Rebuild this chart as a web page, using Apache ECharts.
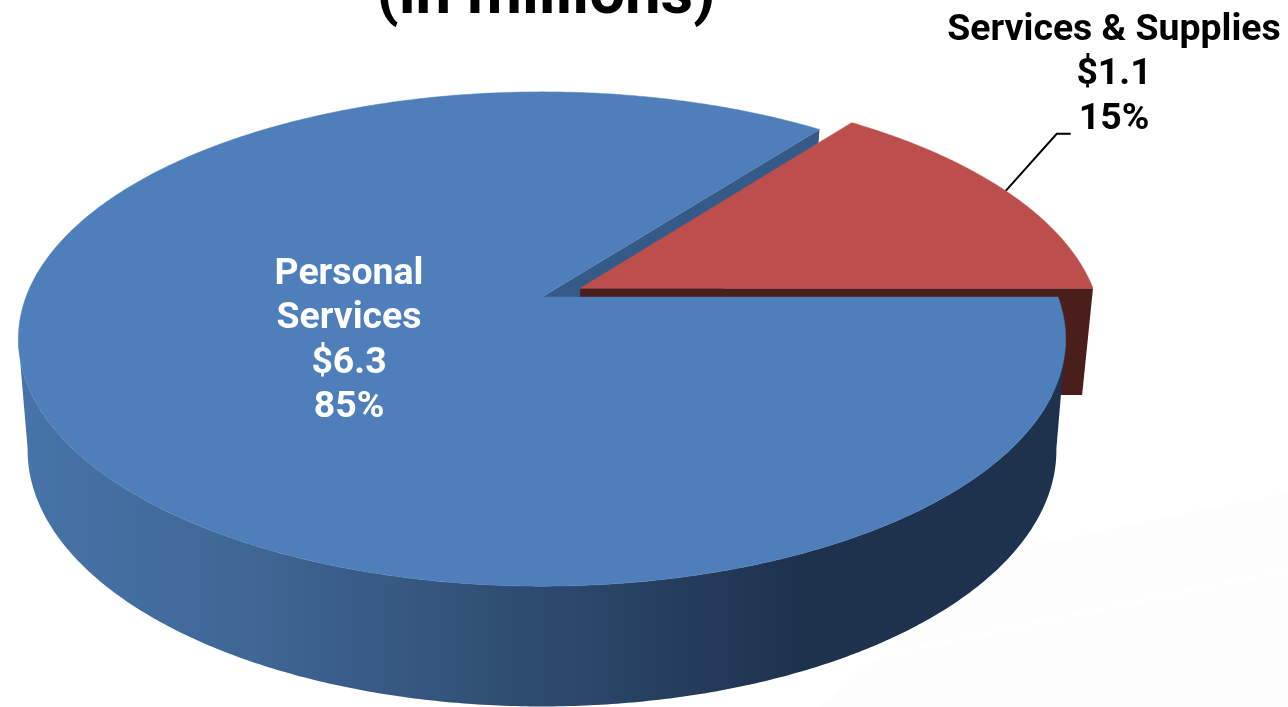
<!DOCTYPE html>
<html>
<head>
<meta charset="utf-8">
<title>Expenditures</title>
<script src="https://cdn.jsdelivr.net/npm/echarts@6/dist/echarts.min.js"></script>
<style>
  html, body { margin: 0; padding: 0; background: #fff; }
  #chart { width: 1288px; height: 707px; }
</style>
</head>
<body>
<div id="chart"></div>
<script>
// values in $ millions
const titleText = "(in millions)";
const categories = ["Personal\nServices", "Services & Supplies"];
const values = [6.34, 1.08];
const explode = [0, 0.083];
const topColors = ["#4e7fbb", "#bc4f4c"];
const cutColors = ["#355a88", "#4a1e1b"];

// layout of the tilted pie: top rim and bottom rim are two perspective circles
const topRim = { cx: 542, cy: 297, a: 516, b: 240, k: 0.17 };
const botRim = { cx: 542, cy: 404, a: 506, b: 248, k: 0.18 };
const labelSpots = [
  { x: 349, y: 341, color: "#fff" },
  { x: 1114, y: 75, color: "#000" },
];

const total = values.reduce((s, v) => s + v, 0);
// slices run counter clockwise from 3 o'clock: last category first
const sweep = values.map((v) => (v / total) * 360);
const ranges = [
  [sweep[1], 360],
  [0, sweep[1]],
];

function project(rim, deg, shift) {
  const t = (deg * Math.PI) / 180;
  const u = Math.cos(t) + shift[0];
  const v = Math.sin(t) + shift[1];
  const w = 1 + rim.k * v;
  return [rim.cx + (rim.a * u) / w, rim.cy - (rim.b * v) / w];
}
function projectCenter(rim, shift) {
  const w = 1 + rim.k * shift[1];
  return [rim.cx + (rim.a * shift[0]) / w, rim.cy - (rim.b * shift[1]) / w];
}
function shiftOf(i) {
  const mid = (((ranges[i][0] + ranges[i][1]) / 2) * Math.PI) / 180;
  return [explode[i] * Math.cos(mid), explode[i] * Math.sin(mid)];
}
function arc(rim, from, to, shift) {
  const pts = [];
  const n = Math.ceil(Math.abs(to - from) * 2);
  for (let j = 0; j <= n; j++) {
    pts.push(project(rim, from + ((to - from) * j) / n, shift));
  }
  return pts;
}

const wallFill = {
  type: "linear",
  x: 30,
  y: 0,
  x2: 1055,
  y2: 0,
  global: true,
  colorStops: [
    { offset: 0, color: "#4673a8" },
    { offset: 0.22, color: "#3f6694" },
    { offset: 0.5, color: "#2d4a6e" },
    { offset: 0.75, color: "#1e324e" },
    { offset: 1, color: "#1e324e" },
  ],
};

function renderWalls(params) {
  const i = params.dataIndex;
  const shift = shiftOf(i);
  const start = ranges[i][0];
  const end = ranges[i][1];
  const kids = [
    {
      type: "polygon",
      z2: i + 1,
      shape: {
        points: [
          projectCenter(topRim, shift),
          project(topRim, start, shift),
          project(botRim, start, shift),
          projectCenter(botRim, shift),
        ],
      },
      style: { fill: cutColors[i] },
    },
  ];
  // only the front part of the outer wall can be seen, between the two
  // angles where the rims are widest
  const from = Math.max(start, 190);
  const to = Math.min(end, 350);
  if (from < to) {
    kids.push({
      type: "polygon",
      z2: 5,
      shape: {
        points: arc(topRim, from, to, shift).concat(
          arc(botRim, to, from, shift)
        ),
      },
      style: { fill: wallFill },
    });
  }
  return { type: "group", children: kids };
}

function renderTops(params) {
  const i = params.dataIndex;
  const shift = shiftOf(i);
  const start = ranges[i][0];
  const end = ranges[i][1];
  const pts = [projectCenter(topRim, shift)].concat(
    arc(topRim, start, end, shift)
  );
  const pct = Math.round((values[i] / total) * 100);
  const spot = labelSpots[i];
  const kids = [
    {
      type: "polygon",
      z2: 10,
      shape: { points: pts },
      style: { fill: topColors[i], stroke: topColors[i], lineWidth: 0.5 },
    },
    {
      type: "text",
      z2: 20,
      x: spot.x,
      y: spot.y,
      style: {
        text: categories[i] + "\n$" + values[i].toFixed(1) + "\n" + pct + "%",
        fill: spot.color,
        font: 'bold 37.4px Roboto, "Liberation Sans", sans-serif',
        lineHeight: 44.5,
        align: "center",
        verticalAlign: "middle",
      },
    },
  ];
  if (explode[i] > 0) {
    // leader from the rim at the slice's middle angle up to the label
    const p = project(topRim, (start + end) / 2, shift);
    kids.push({
      type: "polyline",
      z2: 9,
      shape: {
        points: [p, [p[0] + 51, p[1] - 57], [p[0] + 65, p[1] - 57]],
      },
      style: { stroke: "#000", lineWidth: 2, fill: null },
    });
  }
  return { type: "group", children: kids };
}

const sliceData = categories.map((name, i) => ({ name: name, value: values[i] }));

const chart = echarts.init(document.getElementById("chart"));
chart.setOption({
  animation: false,
  backgroundColor: "#fff",
  title: {
    text: titleText,
    left: 541,
    top: -40,
    textAlign: "center",
    textStyle: {
      color: "#000",
      fontFamily: "Roboto",
      fontWeight: "bold",
      fontSize: 63.5,
    },
  },
  // faint backdrop of the slide, lower right
  graphic: [
    {
      type: "polygon",
      z: 0,
      shape: { points: [[820, 707], [1000, 552], [1288, 492], [1288, 707]] },
      style: { fill: "#fdfdfd" },
    },
    {
      type: "line",
      z: 0,
      shape: { x1: 860, y1: 660, x2: 1288, y2: 570 },
      style: { stroke: "#fff", lineWidth: 2 },
    },
  ],
  series: [
    {
      type: "custom",
      name: "walls",
      coordinateSystem: "none",
      z: 2,
      silent: true,
      renderItem: renderWalls,
      data: sliceData,
    },
    {
      type: "custom",
      name: "tops",
      coordinateSystem: "none",
      z: 3,
      silent: true,
      renderItem: renderTops,
      data: sliceData,
    },
  ],
});
</script>
</body>
</html>
